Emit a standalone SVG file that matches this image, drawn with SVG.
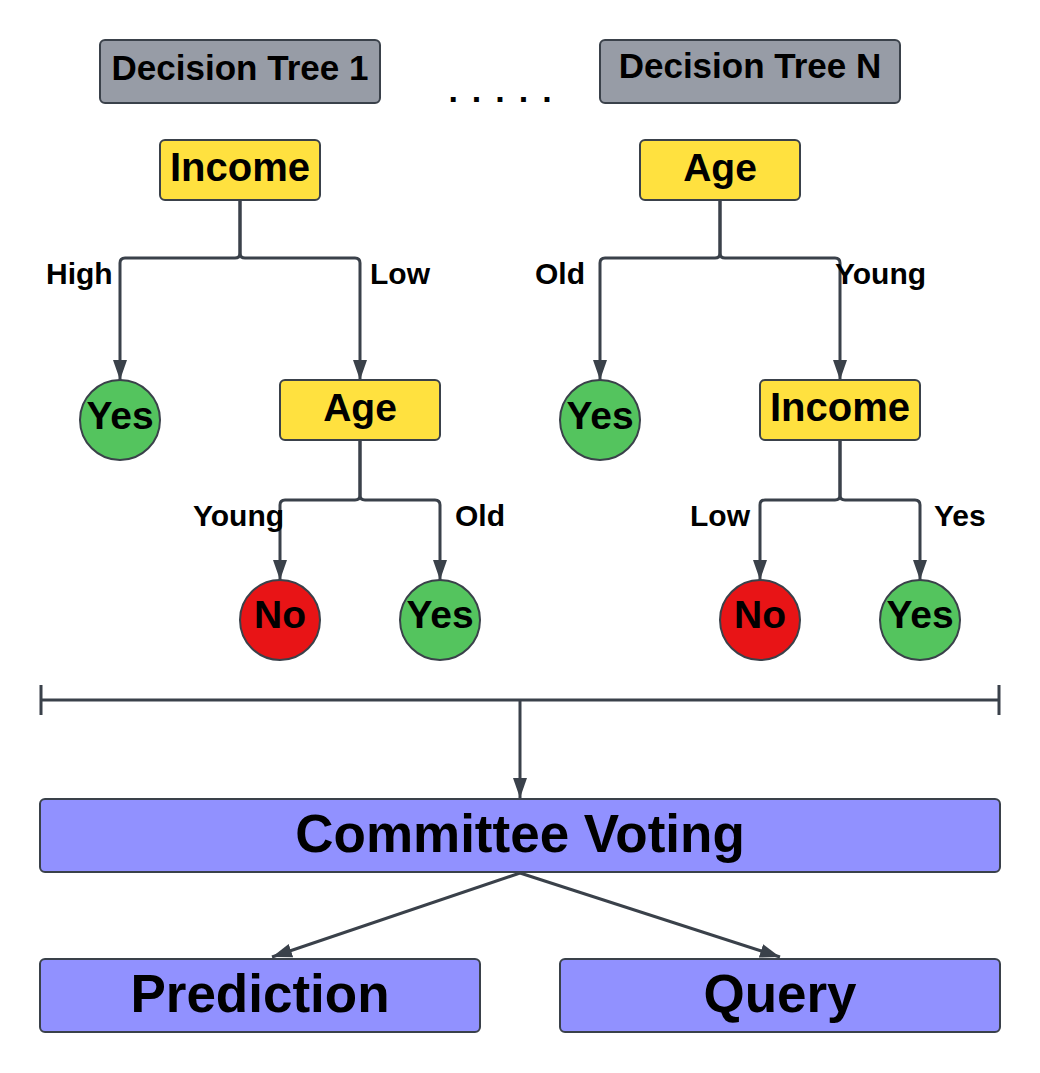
<svg xmlns="http://www.w3.org/2000/svg" width="1040" height="1073" viewBox="0 0 1040 1073">
<defs>
<marker id="ah" markerUnits="userSpaceOnUse" markerWidth="20" markerHeight="16" refX="20" refY="8" orient="auto" viewBox="0 0 20 16"><path d="M0,1 L20,8 L0,15 z" fill="#3a414a"/></marker>
<style>
.t{font-family:"Liberation Sans",Arial,sans-serif;font-weight:bold;fill:#000;text-anchor:middle}
.lb{font-family:"Liberation Sans",Arial,sans-serif;font-weight:bold;fill:#000;font-size:30px}
.ln{fill:none;stroke:#3a414a;stroke-width:3}
.gray{fill:#979ca6;stroke:#3a414a;stroke-width:2}
.yel{fill:#ffe13f;stroke:#3a414a;stroke-width:2}
.grn{fill:#54c45e;stroke:#3a414a;stroke-width:2}
.red{fill:#e81416;stroke:#3a414a;stroke-width:2}
.pur{fill:#9191ff;stroke:#3a414a;stroke-width:2}
</style>
</defs>
<rect width="1040" height="1073" fill="#fff"/>
<g id="connectors">
<path class="ln" d="M240,200 V253 Q240,258 235,258 H125 Q120,258 120,263 V380" marker-end="url(#ah)"/>
<path class="ln" d="M240,200 V253 Q240,258 245,258 H355 Q360,258 360,263 V380" marker-end="url(#ah)"/>
<path class="ln" d="M360,440 V495 Q360,500 355,500 H285 Q280,500 280,505 V580" marker-end="url(#ah)"/>
<path class="ln" d="M360,440 V495 Q360,500 365,500 H435 Q440,500 440,505 V580" marker-end="url(#ah)"/>
<path class="ln" d="M720,200 V253 Q720,258 715,258 H605 Q600,258 600,263 V380" marker-end="url(#ah)"/>
<path class="ln" d="M720,200 V253 Q720,258 725,258 H835 Q840,258 840,263 V380" marker-end="url(#ah)"/>
<path class="ln" d="M840,440 V495 Q840,500 835,500 H765 Q760,500 760,505 V580" marker-end="url(#ah)"/>
<path class="ln" d="M840,440 V495 Q840,500 845,500 H915 Q920,500 920,505 V580" marker-end="url(#ah)"/>
<path class="ln" d="M41,700 H999 M41,685 V715 M999,685 V715"/>
<path class="ln" d="M520,700 V798" marker-end="url(#ah)"/>
<path class="ln" d="M520,873 L272,957" marker-end="url(#ah)"/>
<path class="ln" d="M520,873 L780,957" marker-end="url(#ah)"/>
</g>
<g id="lbls">
<text class="lb" x="46" y="284">High</text>
<text class="lb" x="370" y="284">Low</text>
<text class="lb" x="193" y="526">Young</text>
<text class="lb" x="455" y="526">Old</text>
<text class="lb" x="535" y="284">Old</text>
<text class="lb" x="835" y="284">Young</text>
<text class="lb" x="690" y="526">Low</text>
<text class="lb" x="934" y="526">Yes</text>
</g>
<g id="dt1"><rect class="gray" x="100" y="40" width="280" height="63" rx="5"/><text class="t" x="240" y="80" font-size="35">Decision Tree 1</text></g>
<g id="dtn"><rect class="gray" x="600" y="40" width="300" height="63" rx="5"/><text class="t" x="750" y="78" font-size="35">Decision Tree N</text></g>
<g id="dots"><text class="t" x="507" y="102" font-size="34" letter-spacing="14">.....</text></g>
<g id="income1"><rect class="yel" x="160" y="140" width="160" height="60" rx="5"/><text class="t" x="240" y="181" font-size="40">Income</text></g>
<g id="yes1"><circle class="grn" cx="120" cy="420" r="40"/><text class="t" x="120" y="429" font-size="39">Yes</text></g>
<g id="age1"><rect class="yel" x="280" y="380" width="160" height="60" rx="5"/><text class="t" x="360" y="421" font-size="39">Age</text></g>
<g id="no1"><circle class="red" cx="280" cy="620" r="40"/><text class="t" x="280" y="628" font-size="39">No</text></g>
<g id="yes2"><circle class="grn" cx="440" cy="620" r="40"/><text class="t" x="440" y="628" font-size="39">Yes</text></g>
<g id="age2"><rect class="yel" x="640" y="140" width="160" height="60" rx="5"/><text class="t" x="720" y="181" font-size="39">Age</text></g>
<g id="yes3"><circle class="grn" cx="600" cy="420" r="40"/><text class="t" x="600" y="429" font-size="39">Yes</text></g>
<g id="income2"><rect class="yel" x="760" y="380" width="160" height="60" rx="5"/><text class="t" x="840" y="421" font-size="40">Income</text></g>
<g id="no2"><circle class="red" cx="760" cy="620" r="40"/><text class="t" x="760" y="628" font-size="39">No</text></g>
<g id="yes4"><circle class="grn" cx="920" cy="620" r="40"/><text class="t" x="920" y="628" font-size="39">Yes</text></g>
<g id="committee"><rect class="pur" x="40" y="799" width="960" height="73" rx="5"/><text class="t" x="520" y="852" font-size="53">Committee Voting</text></g>
<g id="prediction"><rect class="pur" x="40" y="959" width="440" height="73" rx="5"/><text class="t" x="260" y="1012" font-size="53">Prediction</text></g>
<g id="query"><rect class="pur" x="560" y="959" width="440" height="73" rx="5"/><text class="t" x="780" y="1012" font-size="53">Query</text></g>
</svg>
